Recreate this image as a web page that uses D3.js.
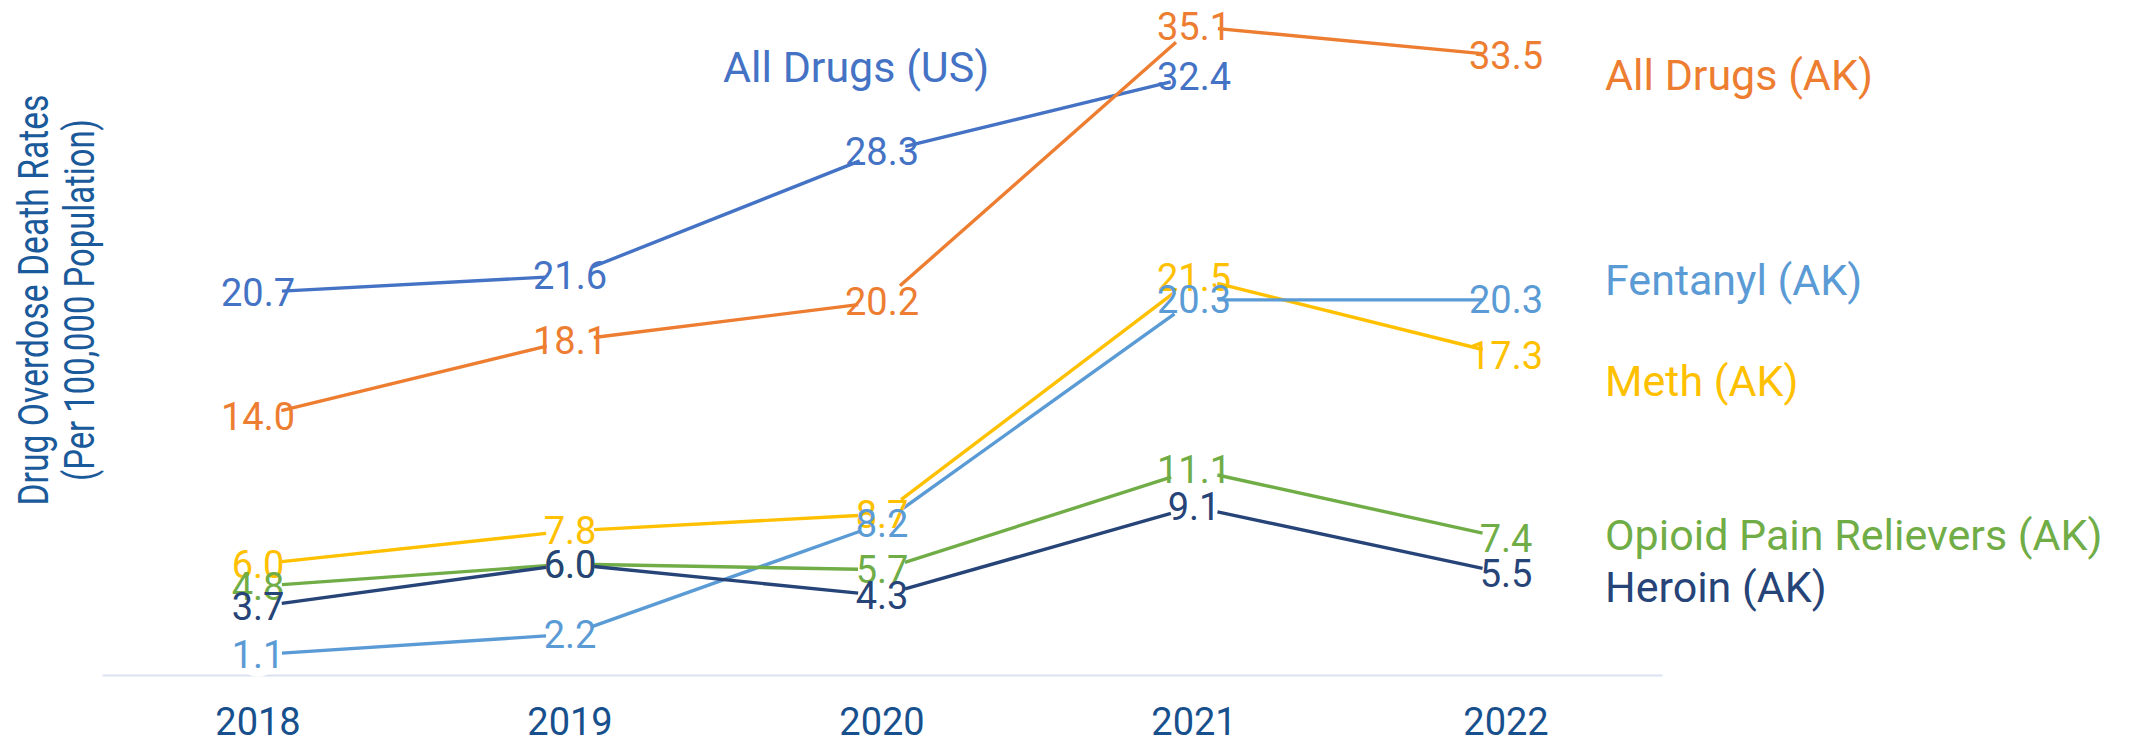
<!DOCTYPE html>
<html>
<head>
<meta charset="utf-8">
<script src="https://cdn.jsdelivr.net/npm/d3@7"></script>
<style>
  html, body { margin: 0; padding: 0; background: #ffffff; }
  svg { display: block; font-family: Roboto, "Noto Sans", sans-serif; }
</style>
</head>
<body>
<svg id="chart" width="2133" height="741"></svg>
<script>
// ---------------- data ----------------
const years = ["2018", "2019", "2020", "2021", "2022"];
const allDrugsUS = [20.7, 21.6, 28.3, 32.4, null];
const allDrugsAK = [14.0, 18.1, 20.2, 35.1, 33.5];
const methAK = [6.0, 7.8, 8.7, 21.5, 17.3];
const fentanylAK = [1.1, 2.2, 8.2, 20.3, 20.3];
const opioidAK = [4.8, 6.0, 5.7, 11.1, 7.4];
const heroinAK = [3.7, 6.0, 4.3, 9.1, 5.5];
const seriesNames = ["All Drugs (US)", "All Drugs (AK)", "Meth (AK)", "Fentanyl (AK)", "Opioid Pain Relievers (AK)", "Heroin (AK)"];
const seriesValues = [allDrugsUS, allDrugsAK, methAK, fentanylAK, opioidAK, heroinAK];
const seriesColors = ["#4472C4", "#ED7D31", "#FFC000", "#5B9BD5", "#70AD47", "#264478"];
// series name label anchor (value on the y axis)
const nameLabelAt = [32.9, 32.5, 15.9, 21.4, 7.6, 4.8];
const yTitle = ["Drug Overdose Death Rates", "(Per 100,000 Population)"];

// ---------------- layout ----------------
const svg = d3.select("#chart");
const x = d3.scaleBand().domain(years).range([102, 1662]).paddingInner(0).paddingOuter(0);
const y = d3.scaleLinear().domain([0, 36]).range([675, 9.7]);
const xc = d => x(d) + x.bandwidth() / 2;
const axisColor = "#17508C";
const gap = 24;

// axis (baseline + year labels)
const axis = svg.append("g")
  .attr("transform", `translate(0,${y(0)})`)
  .call(d3.axisBottom(x).tickSize(0).tickSizeOuter(0).tickPadding(33));
axis.select(".domain").attr("stroke", "#D9E2F1").attr("stroke-width", 2);
axis.selectAll("text")
  .attr("fill", axisColor)
  .style("font-family", "Roboto, sans-serif")
  .style("font-size", "38px");

// y axis title
const yt = svg.append("g");
const yTitleLen = [411, 362];
yTitle.forEach((t, i) => {
  yt.append("text")
    .attr("transform", `translate(${48 + i * 46},300) rotate(-90)`)
    .attr("text-anchor", "middle")
    .attr("fill", "#1B5A9A")
    .attr("textLength", yTitleLen[i])
    .attr("lengthAdjust", "spacingAndGlyphs")
    .style("font-size", "42px")
    .text(t);
});

// white markers (hide what is beneath the points)
const pts = [];
seriesValues.forEach((vals, s) => {
  vals.forEach((v, i) => {
    if (v != null) pts.push({ s, i, v, x: xc(years[i]), y: y(v) });
  });
});
svg.append("g").selectAll("circle").data(pts).join("circle")
  .attr("cx", d => d.x).attr("cy", d => d.y).attr("r", 22).attr("fill", "#ffffff");

// line segments, shortened at both ends
const lines = svg.append("g");
seriesValues.forEach((vals, s) => {
  for (let i = 0; i < vals.length - 1; i++) {
    if (vals[i] == null || vals[i + 1] == null) continue;
    const x0 = xc(years[i]), y0 = y(vals[i]);
    const x1 = xc(years[i + 1]), y1 = y(vals[i + 1]);
    const len = Math.hypot(x1 - x0, y1 - y0);
    const ux = (x1 - x0) / len, uy = (y1 - y0) / len;
    lines.append("line")
      .attr("x1", x0 + ux * gap).attr("y1", y0 + uy * gap)
      .attr("x2", x1 - ux * gap).attr("y2", y1 - uy * gap)
      .attr("stroke", seriesColors[s])
      .attr("stroke-width", 3.4)
      .attr("stroke-linecap", "butt");
  }
});

// data labels centered on points
svg.append("g").selectAll("text").data(pts).join("text")
  .attr("x", d => d.x).attr("y", d => d.y)
  .attr("dy", "0.355em")
  .attr("text-anchor", "middle")
  .attr("fill", d => seriesColors[d.s])
  .style("font-size", "38px")
  .text(d => d3.format(".1f")(d.v));

// series name labels
svg.append("g").selectAll("text").data(seriesNames).join("text")
  .attr("x", (d, s) => s === 0 ? 723 : 1605)
  .attr("y", (d, s) => y(nameLabelAt[s]))
  .attr("dy", "0.355em")
  .attr("fill", (d, s) => seriesColors[s])
  .style("font-size", "43px")
  .text(d => d);
</script>
</body>
</html>
